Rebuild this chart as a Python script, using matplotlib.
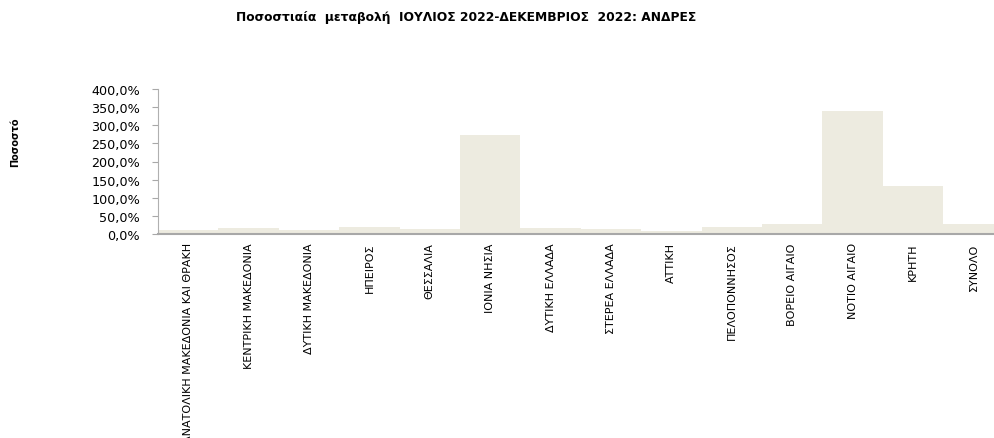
import numpy as np
from matplotlib import pyplot as plt
from matplotlib.ticker import FuncFormatter

regions = ['ΑΝΑΤΟΛΙΚΗ ΜΑΚΕΔΟΝΙΑ ΚΑΙ ΘΡΑΚΗ', 'ΚΕΝΤΡΙΚΗ ΜΑΚΕΔΟΝΙΑ', 'ΔΥΤΙΚΗ ΜΑΚΕΔΟΝΙΑ',
           'ΗΠΕΙΡΟΣ', 'ΘΕΣΣΑΛΙΑ', 'ΙΟΝΙΑ ΝΗΣΙΑ', 'ΔΥΤΙΚΗ ΕΛΛΑΔΑ', 'ΣΤΕΡΕΑ ΕΛΛΑΔΑ',
           'ΑΤΤΙΚΗ', 'ΠΕΛΟΠΟΝΝΗΣΟΣ', 'ΒΟΡΕΙΟ ΑΙΓΑΙΟ', 'ΝΟΤΙΟ ΑΙΓΑΙΟ', 'ΚΡΗΤΗ', 'ΣΥΝΟΛΟ']
change = [12.0, 16.5, 12.0, 20.0, 14.7, 273.0, 16.5, 13.8, 7.4, 20.0, 27.6, 340.0, 132.0, 27.6]

plt.rcParams['font.family'] = ['DejaVu Sans']

fig = plt.figure(figsize=(9.95, 4.39), dpi=100)
ax = fig.add_axes([158/995, 1 - 235/439, 845.6/995, 145/439])

x = np.arange(len(regions))
ax.bar(x, change, width=1.0, color='#edebe0', edgecolor='none')
ax.set_xlim(-0.5, len(regions) - 0.5)
ax.set_ylim(0, 400)
ax.set_yticks(np.arange(0, 401, 50))
ax.yaxis.set_major_formatter(FuncFormatter(lambda v, p: f'{v:.1f}%'.replace('.', ',')))
ax.tick_params(axis='y', labelsize=9.2, length=4, color='#a8a8a8', pad=9)
ax.set_xticks(x)
ax.set_xticklabels(regions, rotation=90, fontsize=8, va='top', ha='center')
ax.tick_params(axis='x', length=0, pad=6)

for s in ['top', 'right']:
    ax.spines[s].set_visible(False)
ax.spines['left'].set_color('#b0b0b0')
ax.spines['left'].set_linewidth(0.8)
ax.spines['bottom'].set_color('#a8a8a8')
ax.spines['bottom'].set_linewidth(1.5)

fig.text(466/995, 1 - 18/439, 'Ποσοστιαία  μεταβολή  ΙΟΥΛΙΟΣ 2022-ΔΕΚΕΜΒΡΙΟΣ  2022: ΑΝΔΡΕΣ',
         ha='center', va='center', fontsize=8.8, fontweight='bold')
fig.text(15/995, 1 - 142/439, 'Ποσοστό', rotation=90, ha='center', va='center',
         fontsize=7, fontweight='bold')

fig.savefig('out.png', dpi=100)
